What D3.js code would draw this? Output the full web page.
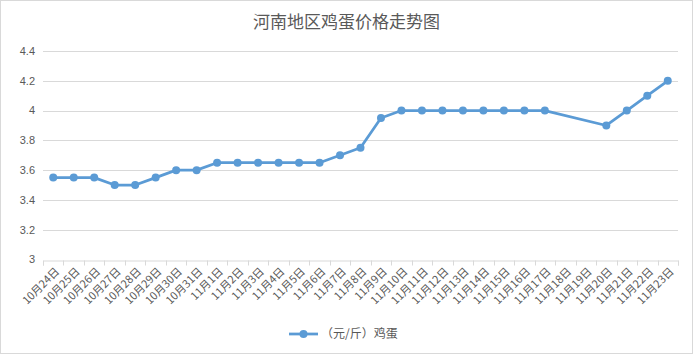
<!DOCTYPE html>
<html>
<head>
<meta charset="utf-8">
<script src="https://cdn.jsdelivr.net/npm/d3@7"></script>
<style>
  body { margin: 0; background: #fff; }
  text { font-family: "Noto Sans CJK SC", "Noto Sans", sans-serif; fill: #595959; }
</style>
</head>
<body>
<div id="chart"></div>
<script>
const categories = ["10月24日","10月25日","10月26日","10月27日","10月28日","10月29日","10月30日","10月31日",
  "11月1日","11月2日","11月3日","11月4日","11月5日","11月6日","11月7日","11月8日","11月9日","11月10日",
  "11月11日","11月12日","11月13日","11月14日","11月15日","11月16日","11月17日","11月18日","11月19日",
  "11月20日","11月21日","11月22日","11月23日"];
const prices = [3.55,3.55,3.55,3.5,3.5,3.55,3.6,3.6,
  3.65,3.65,3.65,3.65,3.65,3.65,3.7,3.75,3.95,4.0,
  4.0,4.0,4.0,4.0,4.0,4.0,4.0,null,null,
  3.9,4.0,4.1,4.2];
const yTicks = [3,3.2,3.4,3.6,3.8,4,4.2,4.4];
const seriesName = "（元/斤）鸡蛋";
const title = "河南地区鸡蛋价格走势图";

const W = 693, H = 354;
const margin = { top: 51, right: 15, bottom: 94.5, left: 43 };
const width = W - margin.left - margin.right;
const height = H - margin.top - margin.bottom;
const color = "#5b9bd5";

const svg = d3.select("#chart").append("svg").attr("width", W).attr("height", H);

svg.append("rect").attr("x", 0.5).attr("y", 0.5).attr("width", W - 1).attr("height", H - 1)
  .attr("fill", "#fff").attr("stroke", "#d9d9d9");

svg.append("text").attr("x", W / 2).attr("y", 28).attr("text-anchor", "middle")
  .style("font-size", "17px").text(title);

const chart = svg.append("g").attr("transform", `translate(${margin.left},${margin.top})`);

const x = d3.scaleBand().domain(categories).range([0, width]);
const y = d3.scaleLinear().domain([3, 4.4]).range([height, 0]);

// gridlines
chart.selectAll(".grid").data(yTicks.slice(1)).join("line")
  .attr("x1", 0).attr("x2", width)
  .attr("y1", d => Math.round(y(d)) + 0.5).attr("y2", d => Math.round(y(d)) + 0.5)
  .attr("stroke", "#d9d9d9");

// y labels
chart.selectAll(".ylab").data(yTicks).join("text")
  .attr("x", -8).attr("y", d => y(d)).attr("dy", "0.35em")
  .attr("text-anchor", "end").style("font-size", "11px")
  .style("font-family", "'Liberation Sans', sans-serif")
  .text(d => d3.format("")(d));

// x axis
const xAxis = d3.axisBottom(x).tickSizeOuter(0).tickSize(5).tickFormat("");
const xg = chart.append("g").attr("transform", `translate(0,${Math.round(height) + 0.5})`).call(xAxis);
xg.select(".domain").attr("stroke", "#d9d9d9");
xg.selectAll(".tick").remove();
// ticks at band boundaries
const bounds = categories.map(c => x(c)).concat([width]);
xg.selectAll(".bt").data(bounds).join("line")
  .attr("x1", d => Math.round(d) + 0.5).attr("x2", d => Math.round(d) + 0.5)
  .attr("y1", 0).attr("y2", 5).attr("stroke", "#d9d9d9");

xg.selectAll(".xlab").data(categories).join("text")
  .attr("transform", d => `translate(${x(d) + x.bandwidth() / 2 + 4},${9}) rotate(-45)`)
  .attr("text-anchor", "end").attr("dy", "0.35em")
  .style("font-size", "11px").text(d => d);

// line
const line = d3.line()
  .defined(d => d.v != null)
  .x(d => x(d.c) + x.bandwidth() / 2)
  .y(d => y(d.v));
const pts = categories.map((c, i) => ({ c, v: prices[i] })).filter(d => d.v != null);
chart.append("path").datum(pts).attr("d", line)
  .attr("fill", "none").attr("stroke", color).attr("stroke-width", 2.75).attr("stroke-linejoin", "round");
chart.selectAll(".pt").data(pts).join("circle")
  .attr("cx", d => x(d.c) + x.bandwidth() / 2).attr("cy", d => y(d.v)).attr("r", 4)
  .attr("fill", color);

// legend
const lg = svg.append("g").attr("transform", "translate(289,334)");
lg.append("line").attr("x1", 0).attr("x2", 29).attr("stroke", color).attr("stroke-width", 2.75);
lg.append("circle").attr("cx", 14.5).attr("r", 4).attr("fill", color);
lg.append("text").attr("x", 32).attr("dy", "0.35em").style("font-size", "12px").text(seriesName);
</script>
</body>
</html>
